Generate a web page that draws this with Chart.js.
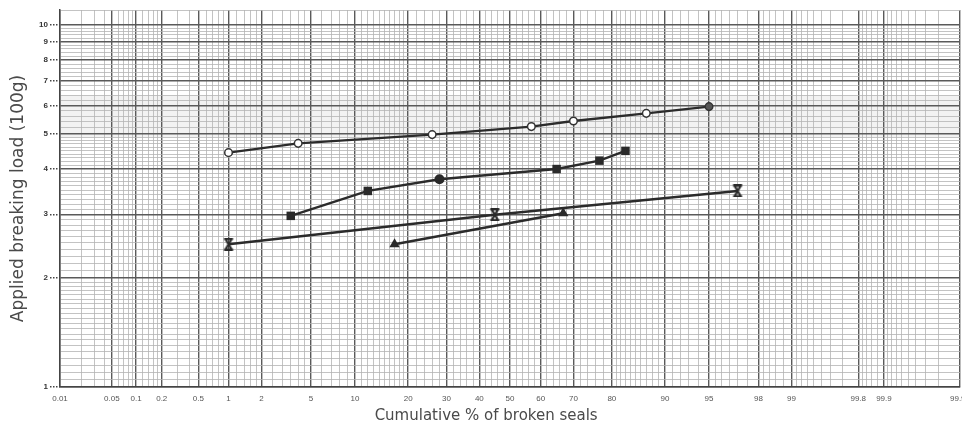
<!DOCTYPE html>
<html lang="en">
<head>
  <meta charset="UTF-8">
  <title>Applied breaking load vs cumulative % of broken seals</title>
  <script src="https://cdn.jsdelivr.net/npm/chart.js@4"></script>
  <style>
    body { margin: 0; background: #fff; }
    .wrap { width: 962px; height: 425px; }
  </style>
</head>
<body>
  <div class="wrap"><canvas id="sealChart"></canvas></div>

  <script>
    // values (x = cumulative %, y = load in 100g)
    const circleX = [1, 4, 26, 57, 70, 87, 95];
    const circleY = [4.44, 4.71, 4.98, 5.24, 5.43, 5.70, 5.95];
    const squareX = [3.5, 12, 28, 65, 77, 83];
    const squareY = [2.97, 3.48, 3.75, 4.00, 4.22, 4.49];
    const crossX = [1, 45, 97];
    const crossY = [2.48, 2.99, 3.48];
    const triangleX = [17, 67];
    const triangleY = [2.48, 3.02];

    const xTickLabels = [0.01, 0.05, 0.1, 0.2, 0.5, 1, 2, 5, 10, 20, 30, 40, 50, 60, 70, 80, 90, 95, 98, 99, 99.8, 99.9, 99.99];
    const yTickLabels = [1, 2, 3, 4, 5, 6, 7, 8, 9, 10];

    // graph paper rulings: [from, to, step]
    const xRulings = [[0.01, 0.1, 0.01], [0.1, 0.2, 0.02], [0.2, 1, 0.1], [1, 2, 0.2], [2, 5, 0.5], [5, 10, 1],
      [10, 20, 1], [20, 80, 2], [80, 90, 1], [90, 95, 1], [95, 98, 0.5], [98, 99, 0.2], [99, 99.8, 0.1],
      [99.8, 99.9, 0.02], [99.9, 99.99, 0.01]];
    const yRulings = [[1, 2, 0.05], [2, 5, 0.1], [5, 10, 0.2], [11, 11, 1]];

    function ruling(list) {
      const out = new Set();
      list.forEach(([from, to, step]) => {
        const n = Math.round((to - from) / step);
        for (let i = 0; i <= n; i++) out.add(Math.round((from + i * step) * 10000) / 10000);
      });
      return [...out].sort((a, b) => a - b);
    }
    const xGrid = ruling(xRulings);
    const yGrid = ruling(yRulings);

    // inverse normal cdf (Acklam)
    function probit(p) {
      const a = [-3.969683028665376e+01, 2.209460984245205e+02, -2.759285104469687e+02, 1.383577518672690e+02, -3.066479806614716e+01, 2.506628277459239e+00];
      const b = [-5.447609879822406e+01, 1.615858368580409e+02, -1.556989798598866e+02, 6.680131188771972e+01, -1.328068155288572e+01];
      const c = [-7.784894002430293e-03, -3.223964580411365e-01, -2.400758277161838e+00, -2.549732539343734e+00, 4.374664141464968e+00, 2.938163982698783e+00];
      const d = [7.784695709041462e-03, 3.224671290700398e-01, 2.445134137142996e+00, 3.754408661907416e+00];
      const pl = 0.02425;
      let q, r;
      if (p < pl) {
        q = Math.sqrt(-2 * Math.log(p));
        return (((((c[0] * q + c[1]) * q + c[2]) * q + c[3]) * q + c[4]) * q + c[5]) / ((((d[0] * q + d[1]) * q + d[2]) * q + d[3]) * q + 1);
      }
      if (p > 1 - pl) {
        q = Math.sqrt(-2 * Math.log(1 - p));
        return -(((((c[0] * q + c[1]) * q + c[2]) * q + c[3]) * q + c[4]) * q + c[5]) / ((((d[0] * q + d[1]) * q + d[2]) * q + d[3]) * q + 1);
      }
      q = p - 0.5; r = q * q;
      return (((((a[0] * r + a[1]) * r + a[2]) * r + a[3]) * r + a[4]) * r + a[5]) * q / (((((b[0] * r + b[1]) * r + b[2]) * r + b[3]) * r + b[4]) * r + 1);
    }
    function normCdf(z) {
      const t = 1 / (1 + 0.2316419 * Math.abs(z));
      const y = 0.3989423 * Math.exp(-z * z / 2) * t * (0.3193815 + t * (-0.3565638 + t * (1.781478 + t * (-1.821256 + t * 1.330274))));
      return z > 0 ? 1 - y : y;
    }

    // probability (normal) axis
    class ProbitScale extends Chart.Scale {
      determineDataLimits() {
        this.min = this.options.min;
        this.max = this.options.max;
      }
      buildTicks() {
        return xGrid.map(v => ({ value: v }));
      }
      configure() {
        super.configure();
        this._zMin = probit(this.min / 100);
        this._zMax = probit(this.max / 100);
      }
      getLabelForValue(v) { return String(v); }
      getPixelForValue(v) {
        if (v === null || isNaN(v)) return NaN;
        return this.getPixelForDecimal((probit(v / 100) - this._zMin) / (this._zMax - this._zMin));
      }
      getValueForPixel(px) {
        return 100 * normCdf(this._zMin + this.getDecimalForPixel(px) * (this._zMax - this._zMin));
      }
      getPadding() { return { left: 0, top: 0, right: 0, bottom: 0 }; }
    }
    ProbitScale.id = 'probit';
    ProbitScale.defaults = {};
    Chart.register(ProbitScale);

    function pts(xs, ys) { return xs.map((x, i) => ({ x: x, y: ys[i] })); }

    // bold X marker with bars top and bottom
    const crossMark = document.createElement('canvas');
    crossMark.width = 12; crossMark.height = 13;
    (function () {
      const g = crossMark.getContext('2d');
      g.strokeStyle = '#2a2a2a'; g.lineWidth = 2.2;
      g.beginPath();
      g.moveTo(1.5, 1.2); g.lineTo(10.5, 1.2);
      g.moveTo(1.5, 11.8); g.lineTo(10.5, 11.8);
      g.moveTo(3, 1.5); g.lineTo(9, 11.5);
      g.moveTo(9, 1.5); g.lineTo(3, 11.5);
      g.stroke();
    })();

    // faint grey band left on the scanned paper
    const paperBand = {
      id: 'paperBand',
      beforeDraw(chart) {
        const { ctx, chartArea, scales } = chart;
        const top = scales.y.getPixelForValue(6.4);
        const bottom = scales.y.getPixelForValue(4.9);
        ctx.save();
        ctx.fillStyle = 'rgba(0,0,0,0.05)';
        ctx.fillRect(chartArea.left, top, chartArea.right - chartArea.left, bottom - top);
        ctx.restore();
      }
    };

    const lineColor = '#2b2b2b';
    const xMajor = new Set(xTickLabels);
    const yMajor = new Set(yTickLabels);

    new Chart(document.getElementById('sealChart'), {
      type: 'line',
      data: {
        datasets: [
          {
            data: pts(circleX, circleY),
            borderColor: lineColor, borderWidth: 2.4,
            pointStyle: 'circle', pointRadius: 3.8, pointBorderWidth: 1.5,
            pointBorderColor: '#333',
            pointBackgroundColor: circleX.map((v, i) => i === circleX.length - 1 ? '#555' : '#fff')
          },
          {
            data: pts(squareX, squareY),
            borderColor: lineColor, borderWidth: 2.4,
            pointStyle: squareX.map((v, i) => i === 2 ? 'circle' : 'rect'),
            pointRadius: squareX.map((v, i) => i === 2 ? 5 : 6),
            pointBorderWidth: 0, pointBackgroundColor: '#2a2a2a'
          },
          {
            data: pts(crossX, crossY),
            borderColor: lineColor, borderWidth: 2.4,
            pointStyle: crossMark, pointRadius: 6
          },
          {
            data: pts(triangleX, triangleY),
            borderColor: lineColor, borderWidth: 2.4,
            pointStyle: 'triangle', pointRadius: 6,
            pointBorderWidth: 0, pointBackgroundColor: '#2a2a2a'
          }
        ]
      },
      options: {
        responsive: true,
        maintainAspectRatio: false,
        animation: false,
        layout: { autoPadding: false, padding: { top: 10, right: 2, left: 0, bottom: 0 } },
        plugins: { legend: { display: false }, tooltip: { enabled: false } },
        scales: {
          x: {
            type: 'probit',
            position: 'bottom',
            min: 0.01,
            max: 99.99,
            afterFit: s => { s.height = 38; },
            border: { color: '#444', width: 1.5 },
            grid: {
              drawTicks: false,
              color: c => xMajor.has(c.tick.value) ? '#5a5a5a' : '#b4b4b4',
              lineWidth: c => xMajor.has(c.tick.value) ? 1.4 : 0.8
            },
            ticks: {
              autoSkip: false,
              maxRotation: 0,
              padding: 7,
              color: '#555',
              font: { family: 'Liberation Sans', size: 8 },
              callback: v => xMajor.has(v) ? String(v) : ''
            },
            title: {
              display: true,
              text: 'Cumulative % of broken seals          ',
              color: '#4a4a4a',
              font: { family: 'DejaVu Sans', size: 15 },
              padding: { top: 4, bottom: 0 }
            }
          },
          y: {
            type: 'logarithmic',
            min: 1,
            max: 11,
            afterBuildTicks: s => { s.ticks = yGrid.map(v => ({ value: v })); },
            afterFit: s => { s.width = 60; },
            border: { color: '#444', width: 1.5 },
            grid: {
              tickLength: 10,
              tickBorderDash: [1.5, 1.5],
              tickColor: c => yMajor.has(c.tick.value) ? '#444' : 'rgba(0,0,0,0)',
              color: c => yMajor.has(c.tick.value) ? '#5a5a5a' : '#b4b4b4',
              lineWidth: c => yMajor.has(c.tick.value) ? 1.4 : 0.8
            },
            ticks: {
              autoSkip: false,
              padding: 2,
              color: '#333',
              font: { family: 'Liberation Sans', size: 8, weight: 'bold' },
              callback: v => yMajor.has(v) ? String(v) : ''
            },
            title: {
              display: true,
              text: 'Applied breaking load (100g)',
              color: '#4a4a4a',
              font: { family: 'DejaVu Sans', size: 17 },
              padding: { top: 8, bottom: 0 }
            }
          }
        }
      },
      plugins: [paperBand]
    });
  </script>
</body>
</html>
